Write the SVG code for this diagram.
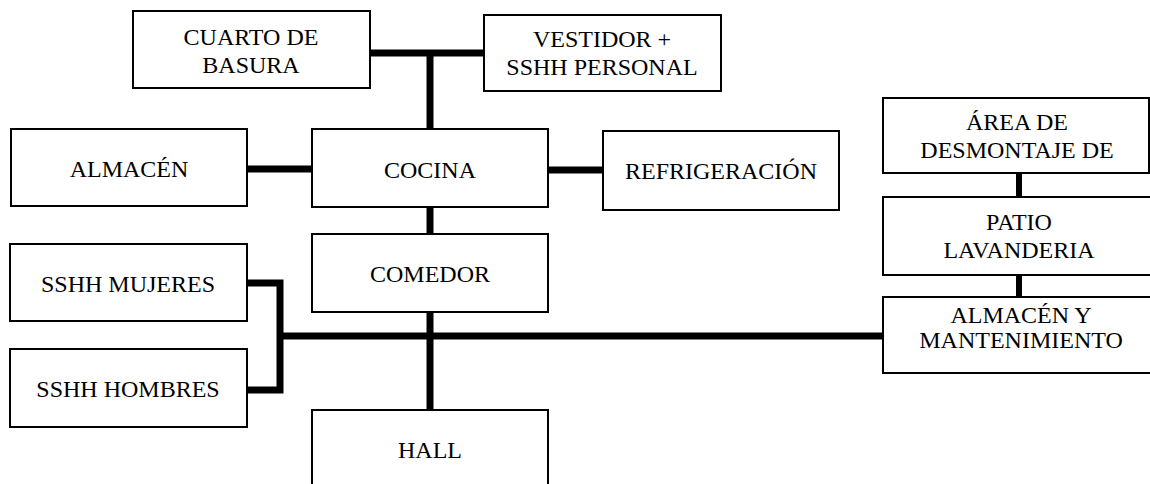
<svg xmlns="http://www.w3.org/2000/svg" width="1150" height="484" viewBox="0 0 1150 484">
<style>
.box{fill:#fff;stroke:#000;stroke-width:2}
.t{font-family:"Liberation Serif","Times New Roman",serif;font-size:24px;fill:#000;text-anchor:middle}
.c{fill:none;stroke:#000;stroke-width:7}
</style>
<rect width="1150" height="484" fill="#fff"/>
<g id="connectors">
<path class="c" d="M370,53 H484 M430,53 V129"/>
<path class="c" d="M247,169 H312"/>
<path class="c" d="M548,170 H603"/>
<path class="c" d="M430,207 V234"/>
<path class="c" d="M430,312 V410"/>
<path class="c" d="M280,336 H883"/>
<path class="c" d="M247,283 H280 V390 H247"/>
<path class="c" d="M1019,173 V197 M1019,275 V297" style="stroke-width:6"/>
</g>
<g id="cuarto"><rect class="box" x="133" y="11" width="237" height="77"/><text class="t" x="251" y="45">CUARTO DE</text><text class="t" x="251" y="73">BASURA</text></g>
<g id="vestidor"><rect class="box" x="484" y="15" width="237" height="76"/><text class="t" x="602" y="47">VESTIDOR +</text><text class="t" x="602" y="75">SSHH PERSONAL</text></g>
<g id="almacen"><rect class="box" x="11" y="129" width="236" height="77"/><text class="t" x="129" y="177">ALMACÉN</text></g>
<g id="cocina"><rect class="box" x="312" y="129" width="236" height="78"/><text class="t" x="430" y="178">COCINA</text></g>
<g id="refrigeracion"><rect class="box" x="603" y="131" width="236" height="79"/><text class="t" x="721" y="179">REFRIGERACIÓN</text></g>
<g id="comedor"><rect class="box" x="312" y="234" width="236" height="78"/><text class="t" x="430" y="282">COMEDOR</text></g>
<g id="mujeres"><rect class="box" x="10" y="244" width="237" height="77"/><text class="t" x="128" y="292">SSHH MUJERES</text></g>
<g id="hombres"><rect class="box" x="10" y="349" width="237" height="78"/><text class="t" x="128" y="397">SSHH HOMBRES</text></g>
<g id="hall"><rect class="box" x="312" y="410" width="236" height="100"/><text class="t" x="430" y="458">HALL</text></g>
<g id="desmontaje"><rect class="box" x="883" y="98" width="266" height="75"/><text class="t" x="1017" y="130">ÁREA DE</text><text class="t" x="1017" y="158">DESMONTAJE DE</text></g>
<g id="patio"><rect class="box" x="883" y="197" width="272" height="78"/><text class="t" x="1019" y="230">PATIO</text><text class="t" x="1019" y="258">LAVANDERIA</text></g>
<g id="mantenimiento"><rect class="box" x="883" y="297" width="272" height="76"/><text class="t" x="1021" y="323">ALMACÉN Y</text><text class="t" x="1021" y="348">MANTENIMIENTO</text></g>
</svg>
